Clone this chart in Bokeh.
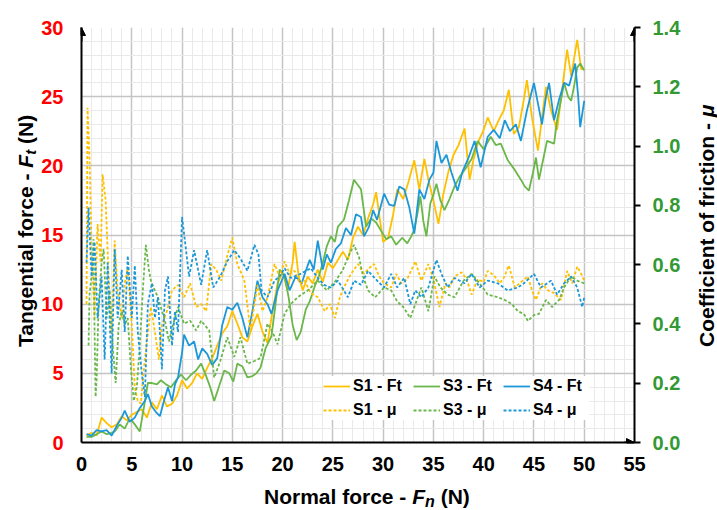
from bokeh.plotting import figure
from bokeh.models import (Range1d, LinearAxis, FixedTicker, NumeralTickFormatter,
                          Legend, LegendItem, Arrow, NormalHead, Div)
from bokeh.layouts import row, column
from bokeh.embed import file_html
from bokeh.resources import INLINE

# ---------------- data ----------------
X_TICKS = [0, 5, 10, 15, 20, 25, 30, 35, 40, 45, 50, 55]
FT_TICKS = [0, 5, 10, 15, 20, 25, 30]
MU_TICKS = [0.0, 0.2, 0.4, 0.6, 0.8, 1.0, 1.2, 1.4]

SERIES_NAMES = ["S1 - Ft", "S3 - Ft", "S4 - Ft", "S1 - μ", "S3 - μ", "S4 - μ"]

S1_FT_X = [0.5, 1.0, 1.5, 2.0, 2.5, 3.0, 3.5, 4.0, 4.5, 5.0, 5.5, 6.0, 6.5, 7.0, 7.5, 8.0, 8.5, 9.0, 9.5,
           10.0, 10.5, 11.0, 11.5, 12.0, 12.5, 13.0, 13.5, 14.0, 14.5, 15.0, 15.5, 16.0, 16.5, 17.0, 17.5,
           18.0, 18.5, 19.0, 19.5, 20.0, 20.5, 21.0, 21.2, 21.6, 22.0, 22.5, 23.0, 23.5, 24.0, 24.5, 25.0,
           25.5, 26.0, 26.5, 27.0, 27.5, 28.0, 28.5, 29.0, 29.3, 29.7, 30.0, 30.5, 31.0, 31.4, 32.0, 32.5,
           33.1, 33.6, 34.1, 34.5, 35.0, 35.5, 36.0, 36.5, 37.0, 37.5, 38.1, 38.6, 39.0, 39.5, 40.0, 40.4,
           41.0, 41.5, 42.0, 42.5, 43.0, 43.5, 44.0, 44.3, 44.8, 45.4, 45.8, 46.2, 46.7, 47.3, 47.8, 48.3,
           48.7, 49.3, 49.7, 50.0]
S1_FT = [0.5, 0.7, 0.5, 1.8, 1.4, 1.1, 1.3, 1.9, 1.6, 2.0, 2.2, 2.4, 1.8, 2.9, 2.4, 3.4, 2.6, 2.8, 3.4,
         4.5, 3.9, 4.3, 5.0, 4.6, 5.4, 6.1, 7.0, 7.9, 8.4, 9.5, 8.6, 7.6, 7.3, 8.4, 9.3,
         8.0, 7.2, 9.5, 11.5, 12.3, 11.0, 13.0, 14.5, 12.0, 11.0, 12.0, 11.5, 12.5, 11.6, 13.0, 12.6,
         13.2, 13.8, 13.2, 14.8, 15.6, 15.0, 16.2, 17.2, 18.1, 16.0, 14.5, 14.8, 16.5, 18.3, 17.6, 18.8,
         20.4, 18.3, 20.5, 19.0, 17.5, 15.8, 18.0, 19.6, 20.8, 21.5, 22.7, 19.0, 20.5, 21.8, 22.6, 23.5,
         22.5, 23.3, 24.0, 25.5, 22.3, 22.8, 24.8, 26.2, 23.5, 21.1, 23.5, 25.7, 24.0, 22.6, 25.5, 28.4,
         26.5, 29.1, 27.0, 27.0]

S3_FT_X = [0.5, 1.0, 1.5, 2.0, 2.5, 3.0, 3.3, 3.8, 4.3, 4.7, 5.0, 5.4, 5.8, 6.2, 6.6, 7.0, 7.5, 7.9, 8.4,
           8.9, 9.4, 9.9, 10.4, 10.9, 11.4, 11.9, 12.4, 12.8, 13.2, 13.7, 14.2, 14.7, 15.1, 15.5, 16.0,
           16.5, 17.0, 17.4, 17.8, 18.3, 18.9, 19.3, 19.7, 20.2, 20.6, 21.0, 21.4, 21.8, 22.3, 22.7, 23.2,
           23.6, 24.0, 24.4, 24.8, 25.2, 25.5, 26.1, 26.6, 27.1, 27.5, 27.8, 28.3, 28.8, 29.3, 29.8, 30.3,
           30.8, 31.3, 31.9, 32.4, 32.8, 33.1, 33.4, 33.7, 34.0, 34.3, 34.7, 35.0, 35.3, 35.7, 36.1, 36.6,
           37.1, 37.6, 38.1, 38.8, 39.4, 40.0, 40.7, 41.2, 41.7, 42.4, 43.0, 43.7, 44.1, 44.5, 44.9, 45.2,
           45.5, 45.9, 46.3, 47.0, 47.3, 47.7, 48.0, 48.4, 48.7, 49.0, 49.3, 49.6, 50.0]
S3_FT = [0.4, 0.4, 0.6, 0.8, 0.6, 0.7, 0.8, 1.3, 1.0, 1.6, 1.6, 1.2, 0.8, 2.5, 4.3, 4.3, 4.2, 4.5, 4.2,
         4.0, 4.5, 4.9, 4.5, 4.9, 5.2, 5.7, 4.8, 4.0, 3.0, 4.1, 5.2, 5.0, 4.4, 5.7, 5.5,
         4.7, 4.8, 5.0, 5.4, 6.8, 7.7, 10.0, 12.5, 12.0, 10.5, 8.5, 7.4, 8.0, 9.6, 10.2, 11.3,
         12.0, 13.0, 14.2, 14.9, 14.5, 15.6, 16.1, 17.5, 19.0, 18.6, 18.3, 15.6, 16.2, 15.9, 15.3, 14.7,
         14.9, 14.3, 14.8, 14.4, 14.9, 15.4, 16.5, 17.8, 16.0, 14.9, 17.3, 17.9, 18.7, 17.5, 16.8, 17.6,
         18.5, 19.2, 19.7, 20.5, 21.8, 21.2, 22.1, 21.5, 21.6, 20.4, 19.8, 19.0, 18.5, 18.2, 19.5, 20.6,
         19.0, 20.4, 21.8, 21.6, 23.3, 24.8, 26.0, 25.0, 24.7, 25.8, 27.1, 27.4, 26.9]

S4_FT_X = [0.5, 1.0, 1.5, 2.0, 2.5, 3.0, 3.5, 4.0, 4.3, 4.8, 5.3, 5.8, 6.3, 6.6, 7.0, 7.4, 7.8, 8.2, 8.6,
           9.0, 9.3, 9.6, 10.0, 10.2, 10.7, 11.2, 11.6, 12.0, 12.5, 13.0, 13.5, 14.0, 14.5, 15.0, 15.5,
           16.0, 16.5, 17.0, 17.5, 18.0, 18.5, 18.9, 19.5, 20.2, 20.7, 21.3, 21.9, 22.3, 22.7, 23.1, 23.5,
           24.0, 24.4, 24.8, 25.3, 25.8, 26.3, 26.8, 27.3, 27.8, 28.1, 28.6, 29.0, 29.4, 30.1, 30.6, 31.1,
           31.6, 32.1, 32.6, 33.1, 33.6, 34.1, 34.6, 35.0, 35.3, 35.8, 36.3, 36.8, 37.4, 37.9, 38.5, 39.1,
           39.7, 40.4, 41.0, 41.6, 42.1, 42.6, 43.2, 43.7, 44.3, 45.0, 45.4, 45.8, 46.2, 46.5, 47.0, 47.5,
           48.0, 48.5, 49.1, 49.4, 49.6, 50.0]
S4_FT = [0.6, 0.5, 0.9, 0.8, 0.9, 0.5, 1.2, 1.8, 2.3, 1.5, 1.8, 2.5, 3.0, 3.5, 2.6, 2.2, 1.9, 3.0, 4.0,
         3.0, 4.2, 4.7, 6.5, 7.8, 7.0, 7.3, 6.0, 6.8, 6.4, 5.6, 6.1, 8.5, 9.8, 9.6, 10.1,
         9.0, 7.6, 9.5, 11.7, 10.5, 10.0, 9.3, 11.0, 12.2, 11.0, 12.0, 11.5, 12.4, 13.2, 12.5, 14.6,
         12.5, 13.6, 13.0, 14.0, 14.4, 15.5, 15.0, 16.5, 16.3, 14.9, 15.6, 16.8, 16.1, 18.0, 17.2, 17.1,
         18.5, 18.3, 17.0, 15.1, 18.3, 17.6, 19.0, 19.5, 21.8, 20.2, 20.8, 19.5, 18.2, 19.6, 20.6, 21.8,
         19.9, 22.1, 22.6, 22.0, 23.3, 22.5, 23.0, 21.8, 24.0, 26.0, 24.5, 23.0, 25.0, 26.0, 23.3, 24.8,
         26.0, 25.8, 27.4, 25.0, 22.8, 24.7]

S1_MU_X = [0.5, 0.6, 0.8, 1.0, 1.3, 1.6, 1.9, 2.1, 2.4, 2.7, 3.0, 3.3, 3.6, 4.0, 4.3, 4.6, 5.0, 5.3, 5.6,
           5.9, 6.3, 6.9, 7.3, 7.7, 8.0, 8.5, 9.0, 9.6, 10.2, 10.8, 11.4, 11.9, 12.4, 12.9, 13.4, 13.9,
           14.5, 15.0, 15.5, 16.2, 16.8, 17.5, 18.0, 18.5, 19.2, 19.7, 20.2, 20.7, 21.2, 21.7, 22.2, 22.8,
           23.5, 24.2, 24.7, 25.2, 25.7, 26.1, 26.8, 27.5, 28.1, 28.6, 29.1, 29.6, 30.1, 30.8, 31.3, 31.8,
           32.4, 33.2, 33.8, 34.5, 35.0, 35.6, 36.2, 36.6, 37.1, 37.8, 38.3, 38.8, 39.4, 40.0, 40.4, 41.0,
           41.6, 42.0, 42.5, 43.1, 43.7, 44.4, 44.8, 45.2, 45.8, 46.4, 47.0, 47.7, 48.3, 48.8, 49.3, 49.7,
           50.0]
S1_MU = [0.467, 1.129, 0.957, 0.653, 0.42, 0.737, 0.607, 0.905, 0.817, 0.56, 0.373, 0.681, 0.513, 0.42,
         0.537, 0.588, 0.397, 0.187, 0.14, 0.131, 0.28, 0.457, 0.373, 0.28, 0.397, 0.443, 0.513, 0.532,
         0.49, 0.537, 0.457, 0.467, 0.443, 0.602, 0.583, 0.546, 0.63, 0.691, 0.602, 0.546, 0.378, 0.532,
         0.443, 0.49, 0.602, 0.56, 0.611, 0.569, 0.579, 0.537, 0.546, 0.504, 0.49, 0.443, 0.467, 0.42,
         0.49, 0.523, 0.569, 0.602, 0.569, 0.588, 0.602, 0.56, 0.537, 0.523, 0.569, 0.537, 0.551, 0.611,
         0.546, 0.602, 0.551, 0.457, 0.537, 0.523, 0.56, 0.574, 0.551, 0.499, 0.551, 0.541, 0.579, 0.565,
         0.537, 0.555, 0.597, 0.523, 0.541, 0.56, 0.513, 0.481, 0.537, 0.513, 0.504, 0.481, 0.579, 0.537,
         0.593, 0.569, 0.546]

S3_MU_X = [0.7, 0.8, 1.0, 1.2, 1.3, 1.4, 1.5, 1.7, 2.0, 2.2, 2.5, 2.8, 3.1, 3.4, 3.7, 4.0, 4.3, 4.6, 4.9,
           5.2, 5.5, 5.8, 6.1, 6.4, 6.7, 6.9, 7.3, 7.6, 8.0, 8.3, 8.7, 9.1, 9.6, 10.2, 10.8, 11.4, 11.9,
           12.7, 13.2, 13.8, 14.5, 15.2, 15.8, 16.5, 17.2, 17.8, 18.5, 19.0, 19.5, 20.2, 20.8, 21.5, 22.5,
           23.5, 24.4, 25.3, 26.0, 26.5, 27.1, 27.6, 28.0, 28.5, 29.2, 30.1, 30.8, 31.4, 32.0, 32.7, 33.3,
           33.8, 34.5, 35.1, 35.7, 36.4, 37.1, 38.0, 38.8, 39.6, 40.4, 41.4, 42.1, 42.8, 43.4, 44.0, 44.4,
           45.0, 45.5, 46.2, 46.8, 47.5, 48.0, 48.7, 49.3, 50.0]
S3_MU = [0.327, 0.499, 0.56, 0.686, 0.373, 0.154, 0.21, 0.467, 0.607, 0.653, 0.42, 0.513, 0.327, 0.201,
         0.397, 0.443, 0.397, 0.42, 0.257, 0.14, 0.187, 0.327, 0.513, 0.667, 0.583, 0.546, 0.513, 0.49,
         0.443, 0.411, 0.341, 0.397, 0.457, 0.401, 0.411, 0.378, 0.411, 0.378, 0.219, 0.275, 0.355, 0.289,
         0.355, 0.266, 0.275, 0.285, 0.401, 0.373, 0.331, 0.434, 0.467, 0.49, 0.513, 0.546, 0.513, 0.546,
         0.583, 0.625, 0.667, 0.625, 0.56, 0.513, 0.49, 0.523, 0.513, 0.476, 0.457, 0.42, 0.476, 0.523,
         0.443, 0.56, 0.523, 0.499, 0.49, 0.546, 0.569, 0.537, 0.499, 0.49, 0.481, 0.467, 0.443, 0.434,
         0.41, 0.43, 0.434, 0.481, 0.457, 0.481, 0.523, 0.56, 0.546, 0.537]

S4_MU_X = [0.5, 0.7, 1.0, 1.3, 1.6, 2.0, 2.3, 2.6, 3.0, 3.3, 3.6, 4.0, 4.3, 4.6, 5.0, 5.3, 5.6, 6.0, 6.3,
           6.6, 7.0, 7.3, 7.6, 8.0, 8.3, 8.6, 9.0, 9.3, 9.6, 10.0, 10.3, 10.7, 11.2, 11.9, 12.5, 13.1,
           13.8, 14.5, 15.2, 15.8, 16.5, 17.2, 17.6, 17.9, 18.5, 19.2, 19.7, 20.2, 20.8, 21.8, 22.8, 23.5,
           24.1, 24.8, 25.5, 26.5, 27.1, 27.8, 28.5, 29.4, 30.1, 30.8, 31.4, 32.1, 32.7, 33.2, 33.8, 34.5,
           35.3, 35.8, 36.4, 37.1, 38.1, 38.8, 39.6, 40.4, 41.4, 42.4, 43.4, 44.0, 45.0, 45.7, 46.7, 47.3,
           48.0, 48.7, 49.3, 49.8, 50.0]
S4_MU = [0.607, 0.793, 0.56, 0.677, 0.42, 0.56, 0.28, 0.607, 0.233, 0.653, 0.42, 0.583, 0.373, 0.63,
         0.42, 0.597, 0.373, 0.233, 0.154, 0.467, 0.537, 0.42, 0.49, 0.247, 0.513, 0.56, 0.327, 0.443,
         0.373, 0.761, 0.677, 0.56, 0.649, 0.532, 0.649, 0.523, 0.56, 0.611, 0.649, 0.621, 0.579, 0.667,
         0.635, 0.513, 0.49, 0.546, 0.56, 0.588, 0.555, 0.569, 0.588, 0.555, 0.532, 0.523, 0.546, 0.49,
         0.546, 0.532, 0.579, 0.546, 0.523, 0.569, 0.523, 0.555, 0.467, 0.513, 0.49, 0.523, 0.616, 0.569,
         0.523, 0.555, 0.537, 0.569, 0.523, 0.546, 0.537, 0.513, 0.523, 0.537, 0.569, 0.523, 0.546, 0.499,
         0.537, 0.56, 0.523, 0.457, 0.49]

# ---------------- styling ----------------
FONT = "Liberation Sans"
YELLOW = "#FFC000"
GREEN = "#6AB74A"
BLUE = "#1C98D8"
RED = "#FF0000"
DKGREEN = "#339933"

LEFT_W, RIGHT_W, CORE_H, TOTAL_W, TOTAL_H = 38, 22, 482, 717, 510
CORE_W = TOTAL_W - LEFT_W - RIGHT_W

p = figure(width=CORE_W, height=CORE_H, output_backend="svg", toolbar_location=None,
           x_range=Range1d(0, 55), y_range=Range1d(0, 30),
           min_border_left=79 - LEFT_W, min_border_right=CORE_W - (79 - LEFT_W) - 555,
           min_border_top=27, min_border_bottom=CORE_H - 442, margin=0)
p.outline_line_color = None
p.background_fill_color = "white"
p.border_fill_color = "white"
p.extra_y_ranges = {"mu": Range1d(0, 1.4)}

xt = FixedTicker(ticks=X_TICKS, minor_ticks=list(range(0, 56)))
yt = FixedTicker(ticks=FT_TICKS, minor_ticks=list(range(0, 31)))
p.xaxis.ticker = xt
p.yaxis.ticker = yt
p.xgrid.ticker = xt
p.ygrid.ticker = yt
for g in (p.xgrid, p.ygrid):
    g.grid_line_color = "#C4C4C4"
    g.grid_line_width = 1.5
    g.minor_grid_line_color = "#E9E9E9"
    g.minor_grid_line_width = 1

for ax, col in ((p.xaxis, "black"), (p.yaxis, RED)):
    ax.axis_line_color = "black"
    ax.axis_line_width = 2
    ax.major_tick_line_color = None
    ax.minor_tick_line_color = None
    ax.major_tick_out = 0
    ax.major_tick_in = 0
    ax.minor_tick_out = 0
    ax.minor_tick_in = 0
    ax.major_label_text_font = FONT
    ax.major_label_text_font_style = "bold"
    ax.major_label_text_font_size = "20px"
    ax.major_label_text_color = col
p.xaxis.major_label_standoff = 14
p.yaxis.major_label_standoff = 18

rax = LinearAxis(y_range_name="mu", ticker=FixedTicker(ticks=MU_TICKS),
                 formatter=NumeralTickFormatter(format="0.0"))
rax.axis_line_color = "black"
rax.axis_line_width = 2
rax.major_tick_line_color = "black"
rax.major_tick_line_width = 2
rax.major_tick_out = 6
rax.major_tick_in = 0
rax.minor_tick_line_color = None
rax.minor_tick_out = 0
rax.major_label_text_font = FONT
rax.major_label_text_font_style = "bold"
rax.major_label_text_font_size = "20px"
rax.major_label_text_color = DKGREEN
rax.major_label_standoff = 12
p.add_layout(rax, "right")

# ---------------- lines ----------------
LW = 1.8
DASH = "3 2"
r1 = p.line(S1_FT_X, S1_FT, line_color=YELLOW, line_width=LW)
r3 = p.line(S3_FT_X, S3_FT, line_color=GREEN, line_width=LW)
r4 = p.line(S4_FT_X, S4_FT, line_color=BLUE, line_width=LW)
m1 = p.line(S1_MU_X, S1_MU, line_color=YELLOW, line_width=LW, line_dash=DASH, y_range_name="mu")
m3 = p.line(S3_MU_X, S3_MU, line_color=GREEN, line_width=LW, line_dash=DASH, y_range_name="mu")
m4 = p.line(S4_MU_X, S4_MU, line_color=BLUE, line_width=LW, line_dash=DASH, y_range_name="mu")

legend = Legend(items=[LegendItem(label=n, renderers=[r]) for n, r in
                       zip(SERIES_NAMES, [r1, r3, r4, m1, m3, m4])],
                location=(242, 22), orientation="horizontal", ncols=3)
legend.label_text_font = FONT
legend.label_text_font_style = "bold"
legend.label_text_font_size = "16px"
legend.label_text_color = "black"
legend.glyph_width = 27
legend.glyph_height = 20
legend.label_height = 20
legend.label_width = 56
legend.label_standoff = 3
legend.spacing = 4
legend.padding = 6
legend.margin = 0
legend.border_line_color = None
legend.background_fill_color = "white"
legend.background_fill_alpha = 1.0
p.add_layout(legend, "center")

# axis arrows
for xs, ys, xe, ye in ((0, 29, 0, 30), (55, 29, 55, 30), (54, 0, 55, 0)):
    p.add_layout(Arrow(end=NormalHead(size=8, fill_color="black", line_color="black"),
                       x_start=xs, y_start=ys, x_end=xe, y_end=ye,
                       line_color="black", line_width=2))

# ---------------- axis titles (HTML, so parts can be italic / subscript) ----------------
BASE = ("font-family:'Liberation Sans',Arial,sans-serif;font-weight:bold;color:black;"
        "white-space:nowrap;line-height:24px;height:24px;")

def vtitle(html, tx, ty, size):
    return ('<div style="' + BASE + f"font-size:{size}px;width:300px;transform-origin:0 0;"
            f'transform:translate({tx}px,{ty}px) rotate(-90deg);">' + html + '</div>')

left_html = vtitle('Tangential force - <i>F</i><i style="font-size:15px;position:relative;top:3px">t</i> (N)',
                   14, 347, 21)
right_html = vtitle('Coefficient of friction - <i>μ</i>', 0, 347, 21)
bottom_html = ('<div style="' + BASE + 'font-size:21px;margin-left:264px;margin-top:3px;">'
               'Normal force - <i>F</i><i style="font-size:16px;position:relative;top:3px">n</i> (N)</div>')

left_div = Div(text=left_html, width=LEFT_W, height=CORE_H, margin=0)
right_div = Div(text=right_html, width=RIGHT_W, height=CORE_H, margin=0)
bottom_div = Div(text=bottom_html, width=TOTAL_W, height=TOTAL_H - CORE_H, margin=0)

layout = column(row(left_div, p, right_div, spacing=0, margin=0), bottom_div, spacing=0, margin=0)

open("out.html", "w").write(file_html(layout, INLINE))
